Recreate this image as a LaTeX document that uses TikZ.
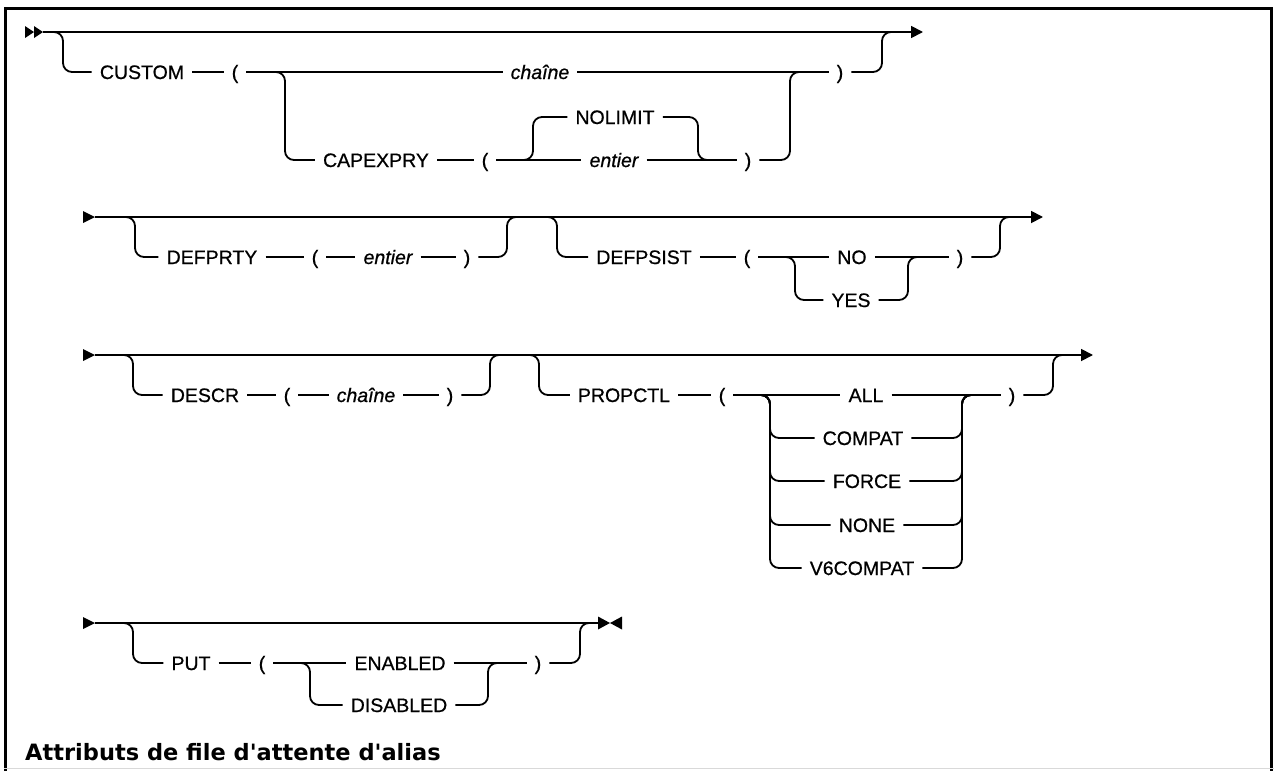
\documentclass[tikz,border=0pt]{standalone}
\usepackage{fontspec}
\setmainfont{Liberation Sans}[UprightFeatures={FakeBold=0.7}, ItalicFeatures={FakeBold=0.7}]
\newfontfamily\titlefont{DejaVu Sans}
\usetikzlibrary{arrows.meta, positioning}

\begin{document}
\begin{tikzpicture}[x=1pt, y=-1pt,
  every node/.style={font=\fontsize{19.5}{22}\selectfont},
  kw/.style={inner xsep=8pt, inner ysep=0pt, text height=14pt, text depth=0pt},
  var/.style={kw, font=\fontsize{19.5}{22}\selectfont\itshape},
  rail/.style={line width=1.8pt, rounded corners=9pt},
  railend/.style={rail, -{Triangle[length=12pt, width=12pt]}},
]
\useasboundingbox (0,0) rectangle (1274,771);

% frame
\draw[line width=3pt] (5.5,771) -- (5.5,8.5) -- (1271,8.5) -- (1271,771);
\draw[black!15, line width=1pt] (4,768.5) -- (1274,768.5);

% junction points
\coordinate (r1s) at (43,32);   \coordinate (r1e) at (923,32);
\coordinate (v1) at (63,32);    \coordinate (w1) at (882,32);
\coordinate (v2) at (285,72);   \coordinate (w2) at (790,72);
\coordinate (v3) at (533,160);  \coordinate (w3) at (698,160);
\coordinate (r2s) at (95,217);  \coordinate (r2e) at (1043,217);
\coordinate (v4) at (135,217);  \coordinate (w4) at (507,217);
\coordinate (v5) at (557,217);  \coordinate (w5) at (1000,217);
\coordinate (v6) at (795,257);  \coordinate (w6) at (908,257);
\coordinate (r3s) at (95,355);  \coordinate (r3e) at (1093,355);
\coordinate (v7) at (133,355);  \coordinate (w7) at (490,355);
\coordinate (v9) at (539,355);  \coordinate (w9) at (1053,355);
\coordinate (v8) at (770,395);  \coordinate (w8) at (962,395);
\coordinate (r4s) at (95,623);  \coordinate (r4e) at (598,623);
\coordinate (v10) at (133,623); \coordinate (w10) at (580,623);
\coordinate (v11) at (310,663); \coordinate (w11) at (488,663);

% CUSTOM
\node[kw] (custom) at (142,72) {CUSTOM};
\node[kw] (lp1) at (235,72) {(};
\node[var] (chaine1) at (540,72) {chaîne};
\node[kw] (rp1) at (840,72) {)};
\node[kw] (capexpry) at (376,160) {CAPEXPRY};
\node[kw] (lp2) at (485,160) {(};
\node[kw] (nolimit) at (615,117) {NOLIMIT};
\node[var] (entier1) at (614,160) {entier};
\node[kw] (rp2) at (748,160) {)};

% DEFPRTY, DEFPSIST
\node[kw] (defprty) at (212,257) {DEFPRTY};
\node[kw] (lp3) at (315,257) {(};
\node[var] (entier2) at (388,257) {entier};
\node[kw] (rp3) at (467,257) {)};
\node[kw] (defpsist) at (644,257) {DEFPSIST};
\node[kw] (lp4) at (747,257) {(};
\node[kw] (no) at (852,257) {NO};
\node[kw] (yes) at (851,300) {YES};
\node[kw] (rp4) at (960,257) {)};

% DESCR, PROPCTL
\node[kw] (descr) at (205,395) {DESCR};
\node[kw] (lp5) at (287,395) {(};
\node[var] (chaine2) at (366,395) {chaîne};
\node[kw] (rp5) at (450,395) {)};
\node[kw] (propctl) at (624,395) {PROPCTL};
\node[kw] (lp6) at (722,395) {(};
\node[kw] (all) at (866,395) {ALL};
\node[kw] (compat) at (863,438) {COMPAT};
\node[kw] (force) at (867,481) {FORCE};
\node[kw] (none) at (867,525) {NONE};
\node[kw] (v6compat) at (862,568) {V6COMPAT};
\node[kw] (rp6) at (1012,395) {)};

% PUT
\node[kw] (put) at (191,663) {PUT};
\node[kw] (lp7) at (262,663) {(};
\node[kw] (enabled) at (400,663) {ENABLED};
\node[kw] (disabled) at (399,705) {DISABLED};
\node[kw] (rp7) at (538,663) {)};

\node[anchor=west, inner sep=0pt, font=\fontsize{22.5}{26}\selectfont\titlefont\bfseries] (title) at (25,752)
  {Attributs de file d\textquotesingle attente d\textquotesingle alias};

% start and end marks
\fill (25,26) -- (34,32) -- (25,38) -- cycle;
\fill (34,26) -- (43,32) -- (34,38) -- cycle;
\foreach \y in {217,355,623}
  \fill (83,\y-6) -- (95,\y) -- (83,\y+6) -- cycle;
\fill (598,616.5) -- (610,623) -- (598,629.5) -- cycle;
\fill (622,616.5) -- (610,623) -- (622,629.5) -- cycle;

% row 1
\draw[railend] (r1s) -- (r1e);
\draw[rail] (r1s) -- (v1) |- (custom.west);
\draw[rail] (custom) -- (lp1);
\draw[rail] (lp1) -- (chaine1);
\draw[rail] (chaine1) -- (rp1);
\draw[rail] (rp1.east) -| (w1) -- ([xshift=12pt]w1);
\draw[rail] ([xshift=-12pt]v2) -- (v2) |- (capexpry.west);
\draw[rail] (capexpry) -- (lp2);
\draw[rail] (lp2) -- (entier1);
\draw[rail] (entier1) -- (rp2);
\draw[rail] (rp2.east) -| (w2) -- ([xshift=12pt]w2);
\draw[rail] ([xshift=-12pt]v3) -- (v3) |- (nolimit.west);
\draw[rail] (nolimit.east) -| (w3) -- ([xshift=12pt]w3);

% row 2
\draw[railend] (r2s) -- (r2e);
\draw[rail] (r2s) -- (v4) |- (defprty.west);
\draw[rail] (defprty) -- (lp3);
\draw[rail] (lp3) -- (entier2);
\draw[rail] (entier2) -- (rp3);
\draw[rail] (rp3.east) -| (w4) -- ([xshift=12pt]w4);
\draw[rail] ([xshift=-12pt]v5) -- (v5) |- (defpsist.west);
\draw[rail] (defpsist) -- (lp4);
\draw[rail] (lp4) -- (no);
\draw[rail] (no) -- (rp4);
\draw[rail] (rp4.east) -| (w5) -- ([xshift=12pt]w5);
\draw[rail] ([xshift=-12pt]v6) -- (v6) |- (yes.west);
\draw[rail] (yes.east) -| (w6) -- ([xshift=12pt]w6);

% row 3
\draw[railend] (r3s) -- (r3e);
\draw[rail] (r3s) -- (v7) |- (descr.west);
\draw[rail] (descr) -- (lp5);
\draw[rail] (lp5) -- (chaine2);
\draw[rail] (chaine2) -- (rp5);
\draw[rail] (rp5.east) -| (w7) -- ([xshift=12pt]w7);
\draw[rail] ([xshift=-12pt]v9) -- (v9) |- (propctl.west);
\draw[rail] (propctl) -- (lp6);
\draw[rail] (lp6) -- (all);
\draw[rail] (all) -- (rp6);
\draw[rail] (rp6.east) -| (w9) -- ([xshift=12pt]w9);
\foreach \o in {compat, force, none, v6compat} {
  \draw[rail] ([xshift=-12pt]v8) -- (v8) |- (\o.west);
  \draw[rail] (\o.east) -| (w8) -- ([xshift=12pt]w8);
}

% row 4
\draw[rail] (r4s) -- (r4e);
\draw[rail] (r4s) -- (v10) |- (put.west);
\draw[rail] (put) -- (lp7);
\draw[rail] (lp7) -- (enabled);
\draw[rail] (enabled) -- (rp7);
\draw[rail] (rp7.east) -| (w10) -- ([xshift=12pt]w10);
\draw[rail] ([xshift=-12pt]v11) -- (v11) |- (disabled.west);
\draw[rail] (disabled.east) -| (w11) -- ([xshift=12pt]w11);
\end{tikzpicture}
\end{document}
